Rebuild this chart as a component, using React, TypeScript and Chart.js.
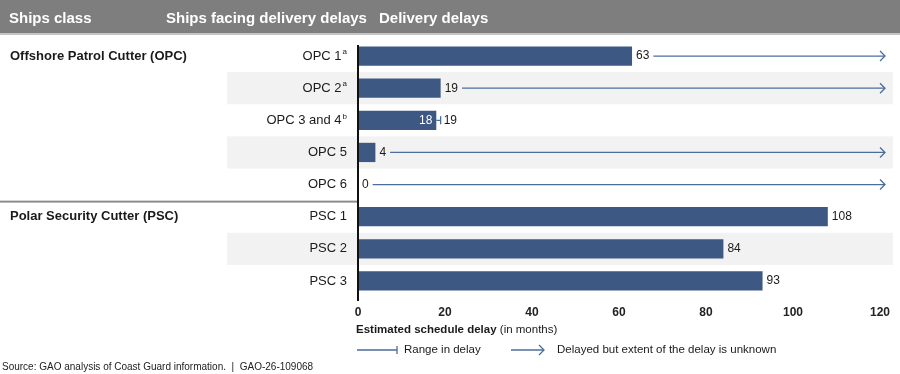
import React, { useEffect, useRef } from "react";
import { Chart, registerables } from "chart.js";

Chart.register(...registerables);

const shipLabels = ["OPC 1", "OPC 2", "OPC 3 and 4", "OPC 5", "OPC 6", "PSC 1", "PSC 2", "PSC 3"];
const footnotes = ["a", "a", "b", "", "", "", "", ""];
const shipClasses = ["Offshore Patrol Cutter (OPC)", "Polar Security Cutter (PSC)"];
const classStartIndex = [0, 5];
const delayMonths = [63, 19, 18, 4, 0, 108, 84, 93];
const delayRangeMax: (number | null)[] = [null, null, 19, null, null, null, null, null];
const extentUnknown = [true, true, false, true, true, false, false, false];
const shadedRows = [1, 3, 6];
const xMin = 0;
const xMax = 120;
const xStep = 20;

const headers = ["Ships class", "Ships facing delivery delays", "Delivery delays"];
const axisTitleBold = "Estimated schedule delay";
const axisTitleNormal = " (in months)";
const legendRange = "Range in delay";
const legendUnknown = "Delayed but extent of the delay is unknown";
const sourceText = "Source: GAO analysis of Coast Guard information.  |  GAO-26-109068";

const FF = '"Liberation Sans", Arial, Helvetica, sans-serif';
const BAR = "#3d5882";
const ARROW = "#4a6e9c";
const TEXT = "#1a1a1a";

function drawArrowLine(ctx: CanvasRenderingContext2D, x0: number, x1: number, y: number) {
  ctx.save();
  ctx.strokeStyle = ARROW;
  ctx.lineWidth = 1.3;
  ctx.beginPath();
  ctx.moveTo(x0, y);
  ctx.lineTo(x1, y);
  ctx.stroke();
  ctx.beginPath();
  ctx.moveTo(x1 - 5, y - 5);
  ctx.lineTo(x1, y);
  ctx.lineTo(x1 - 5, y + 5);
  ctx.stroke();
  ctx.restore();
}

function drawRangeLine(ctx: CanvasRenderingContext2D, x0: number, x1: number, y: number) {
  ctx.save();
  ctx.strokeStyle = ARROW;
  ctx.lineWidth = 1.3;
  ctx.beginPath();
  ctx.moveTo(x0, y);
  ctx.lineTo(x1, y);
  ctx.moveTo(x1, y - 4);
  ctx.lineTo(x1, y + 4);
  ctx.stroke();
  ctx.restore();
}

const decor = {
  id: "decor",
  beforeDraw(chart: any) {
    const { ctx, width } = chart;
    ctx.save();
    ctx.fillStyle = "#ffffff";
    ctx.fillRect(0, 0, width, chart.height);
    ctx.fillStyle = "#7e7e7e";
    ctx.fillRect(0, 0, width, 33);
    ctx.fillStyle = "#c4c4c4";
    ctx.fillRect(0, 33, width, 2);
    ctx.fillStyle = "#ffffff";
    ctx.font = `bold 15px ${FF}`;
    ctx.textBaseline = "middle";
    ctx.textAlign = "left";
    const hx = [9, 166, 379];
    headers.forEach((h, i) => ctx.fillText(h, hx[i], 19));
    ctx.restore();
  },
  beforeDatasetsDraw(chart: any) {
    const { ctx } = chart;
    const y = chart.scales.y;
    ctx.save();
    ctx.fillStyle = "#f2f2f2";
    shadedRows.forEach((i) => {
      const c = y.getPixelForValue(i);
      const h = y.getPixelForValue(1) - y.getPixelForValue(0);
      ctx.fillRect(227, c - h / 2, 893 - 227, h);
    });
    ctx.restore();
  },
  afterDatasetsDraw(chart: any) {
    const { ctx, chartArea } = chart;
    const x = chart.scales.x;
    const y = chart.scales.y;
    const rowH = y.getPixelForValue(1) - y.getPixelForValue(0);
    ctx.save();
    // row labels
    shipLabels.forEach((lab, i) => {
      const cy = y.getPixelForValue(i);
      const right = 347;
      ctx.textBaseline = "middle";
      ctx.fillStyle = TEXT;
      let supW = 0;
      if (footnotes[i]) {
        ctx.font = `8px ${FF}`;
        supW = ctx.measureText(footnotes[i]).width + 1;
        ctx.textAlign = "right";
        ctx.fillText(footnotes[i], right, cy - 4);
      }
      ctx.font = `13px ${FF}`;
      ctx.textAlign = "right";
      ctx.fillText(lab, right - supW, cy);
    });
    // group labels
    ctx.font = `bold 13px ${FF}`;
    ctx.textAlign = "left";
    ctx.fillStyle = TEXT;
    shipClasses.forEach((g, k) => {
      ctx.fillText(g, 10, y.getPixelForValue(classStartIndex[k]));
    });
    // separator
    ctx.fillStyle = "#8c8c8c";
    for (let k = 1; k < classStartIndex.length; k++) {
      const sy = y.getPixelForValue(classStartIndex[k]) - rowH / 2;
      ctx.fillRect(0, sy, chartArea.left - 1, 2);
    }
    // value labels, ranges, arrows
    ctx.font = `12px ${FF}`;
    delayMonths.forEach((v, i) => {
      const cy = y.getPixelForValue(i);
      const bx = x.getPixelForValue(v);
      const rmax = delayRangeMax[i];
      let endX = bx;
      if (rmax !== null) {
        ctx.fillStyle = "#ffffff";
        ctx.textAlign = "right";
        ctx.fillText(String(v), bx - 4, cy);
        const rx = x.getPixelForValue(rmax);
        drawRangeLine(ctx, bx, rx, cy);
        ctx.fillStyle = TEXT;
        ctx.textAlign = "left";
        ctx.fillText(String(rmax), rx + 3, cy);
        endX = rx + 3 + ctx.measureText(String(rmax)).width;
      } else {
        ctx.fillStyle = TEXT;
        ctx.textAlign = "left";
        const tx = bx + 4;
        ctx.fillText(String(v), tx, cy);
        endX = tx + ctx.measureText(String(v)).width;
      }
      if (extentUnknown[i]) {
        drawArrowLine(ctx, endX + 4, chartArea.right + 5, cy);
      }
    });
    // axis line
    ctx.fillStyle = "#111111";
    ctx.fillRect(chartArea.left - 1, chartArea.top + 5, 2, chartArea.bottom - chartArea.top - 1);
    ctx.restore();
  },
  afterDraw(chart: any) {
    const { ctx, chartArea } = chart;
    ctx.save();
    ctx.textBaseline = "middle";
    ctx.textAlign = "left";
    ctx.fillStyle = TEXT;
    // axis title
    const tx = chartArea.left - 2;
    ctx.font = `bold 11.5px ${FF}`;
    ctx.fillText(axisTitleBold, tx, 330);
    const w = ctx.measureText(axisTitleBold).width;
    ctx.font = `11.5px ${FF}`;
    ctx.fillText(axisTitleNormal, tx + w, 330);
    // legend
    const ly = 350;
    drawRangeLine(ctx, 357, 397, ly);
    ctx.fillStyle = TEXT;
    ctx.fillText(legendRange, 404, ly);
    drawArrowLine(ctx, 511, 544, ly);
    ctx.fillStyle = TEXT;
    ctx.fillText(legendUnknown, 557, ly);
    // source
    ctx.font = `10px ${FF}`;
    ctx.fillStyle = "#222222";
    ctx.fillText(sourceText, 2, 367);
    ctx.restore();
  },
};

export default function App() {
  const ref = useRef<HTMLCanvasElement | null>(null);
  useEffect(() => {
    if (!ref.current) return;
    const chart = new Chart(ref.current, {
      type: "bar",
      data: {
        labels: shipLabels,
        datasets: [
          {
            data: delayMonths,
            backgroundColor: BAR,
            borderWidth: 0,
            barPercentage: 0.6,
            categoryPercentage: 1,
          },
        ],
      },
      options: {
        indexAxis: "y",
        responsive: false,
        animation: false,
        devicePixelRatio: 1,
        layout: { padding: { left: 358, right: 20, top: 40, bottom: 0 } },
        plugins: { legend: { display: false }, tooltip: { enabled: false } },
        scales: {
          y: { display: false },
          x: {
            position: "bottom",
            min: xMin,
            max: xMax,
            grid: { display: false, drawTicks: false },
            border: { display: false },
            ticks: {
              stepSize: xStep,
              padding: 8,
              color: "#222222",
              font: { family: FF, size: 12, weight: "bold" },
              maxRotation: 0,
            },
            afterFit: (scale: any) => {
              scale.height = 77;
            },
          },
        },
      },
      plugins: [decor],
    } as any);
    return () => chart.destroy();
  }, []);
  return (
    <div style={{ position: "absolute", left: 0, top: 0, width: 900, height: 374, background: "#fff" }}>
      <canvas ref={ref} width={900} height={374} style={{ display: "block" }} />
    </div>
  );
}
